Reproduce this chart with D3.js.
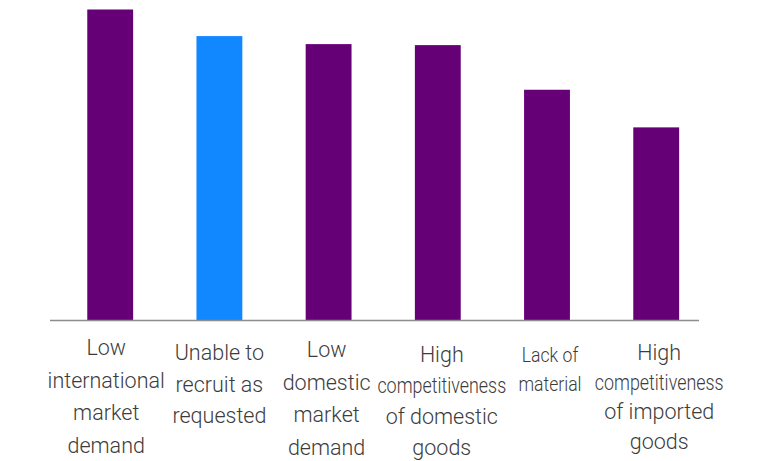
<!DOCTYPE html>
<html>
<head>
<meta charset="utf-8">
<script src="https://cdn.jsdelivr.net/npm/d3@7"></script>
<style>
  html, body { margin: 0; padding: 0; background: #fff; }
  svg { display: block; }
  .lbl { font-family: Roboto, "Noto Sans", sans-serif; font-weight: 300; fill: #3c3c3c; }
</style>
</head>
<body>
<svg id="chart" width="761" height="461"></svg>
<script>
// Reasons given by firms (share of respondents, %)
const categories = [
  "Low international market demand",
  "Unable to recruit as requested",
  "Low domestic market demand",
  "High competitiveness of domestic goods",
  "Lack of material",
  "High competitiveness of imported goods"
];
// Line breaks used for the category labels
const labelLines = [
  ["Low", "international", "market", "demand"],
  ["Unable to", "recruit as", "requested"],
  ["Low", "domestic", "market", "demand"],
  ["High", "competitiveness", "of domestic", "goods"],
  ["Lack of", "material"],
  ["High", "competitiveness", "of imported", "goods"]
];
const values = [62.0, 56.7, 55.1, 54.9, 46.0, 38.5];
const highlighted = ["Unable to recruit as requested"];

// Layout
const W = 761, H = 461;
const baseY = 320.5;
const plotTop = 9.5;
const colors = { bar: "#660077", highlight: "#1188ff", axis: "#8c8c8c" };
const labelFont = 21.5, maxLineW = 129;
// Placement of each label block: horizontal shift from the bar centre,
// first baseline, line spacing and horizontal squeeze
const labelBox = [
  { dx: -4, top: 355,   lineH: 32.7, scale: 1 },
  { dx: 0,  top: 360,   lineH: 31.5, scale: 1 },
  { dx: -2, top: 357,   lineH: 32.5, scale: 1 },
  { dx: 4,  top: 361.5, lineH: 31,   scale: 1 },
  { dx: 3,  top: 362,   lineH: 28.5, scale: 0.86, size: 20.5 },
  { dx: 3,  top: 360,   lineH: 29.5, scale: 1 }
];

const svg = d3.select("#chart");

const x = d3.scaleBand()
  .domain(categories)
  .range([55.6, 710.8])
  .paddingInner(0.58)
  .paddingOuter(0.29);

const y = d3.scaleLinear()
  .domain([0, d3.max(values)])
  .range([baseY, plotTop]);

// Bars
svg.append("g")
  .selectAll("rect")
  .data(categories.map((c, i) => ({ c, v: values[i] })))
  .join("rect")
  .attr("x", d => x(d.c))
  .attr("y", d => y(d.v))
  .attr("width", x.bandwidth())
  .attr("height", d => y(0) - y(d.v))
  .attr("fill", d => highlighted.includes(d.c) ? colors.highlight : colors.bar);

// Baseline
svg.append("line")
  .attr("x1", 50).attr("x2", 699)
  .attr("y1", baseY).attr("y2", baseY)
  .attr("stroke", colors.axis)
  .attr("stroke-width", 1.6);

// Category labels; lines too wide for the column are squeezed horizontally
const lg = svg.append("g");
categories.forEach((c, i) => {
  const box = labelBox[i];
  const cx = x(c) + x.bandwidth() / 2 + box.dx;
  labelLines[i].forEach((line, j) => {
    const t = lg.append("text")
      .attr("class", "lbl")
      .attr("text-anchor", "middle")
      .attr("font-size", box.size || labelFont)
      .text(line);
    const w = t.node().getComputedTextLength();
    const sx = Math.min(box.scale, maxLineW / w);
    t.attr("transform", `translate(${cx},${box.top + j * box.lineH}) scale(${sx},1)`);
  });
});
</script>
</body>
</html>
